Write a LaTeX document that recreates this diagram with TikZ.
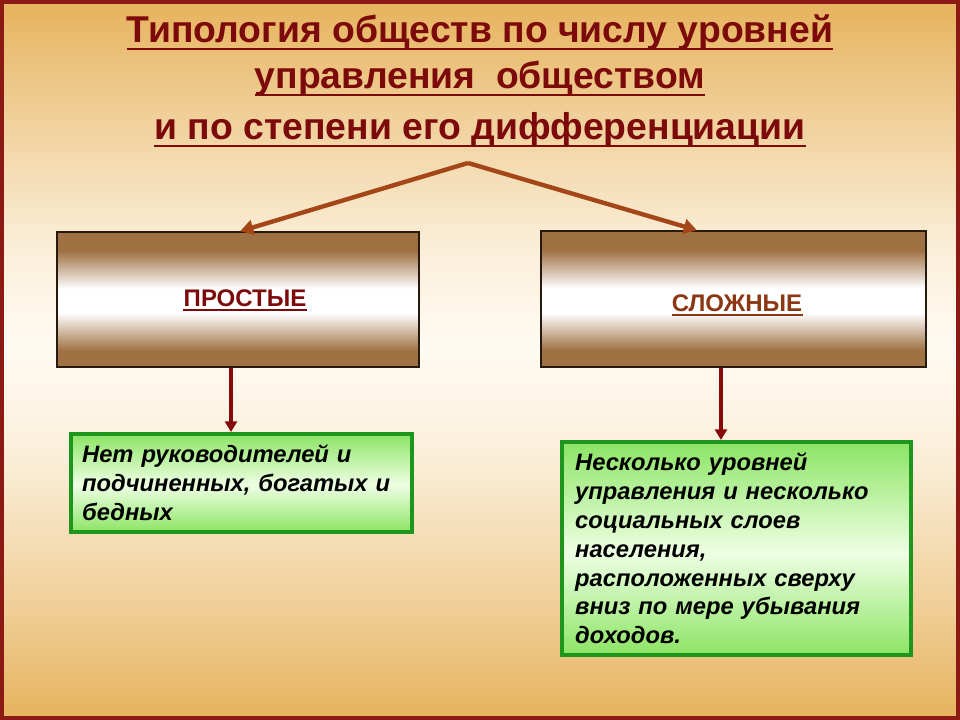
\documentclass[tikz,border=0pt]{standalone}
\usepackage{fontspec}
\setmainfont{Liberation Sans}
\usetikzlibrary{arrows.meta,calc}
\definecolor{titlered}{RGB}{125,10,10}
\definecolor{framered}{RGB}{140,25,20}
\definecolor{apexbrown}{RGB}{165,70,25}
\definecolor{downred}{RGB}{135,10,10}
\definecolor{boxbrown}{RGB}{158,112,66}
\definecolor{complexbrown}{RGB}{140,55,20}
\definecolor{noteframe}{RGB}{30,150,30}
\definecolor{notegreen}{RGB}{140,228,100}
\definecolor{notepale}{RGB}{238,255,228}
\definecolor{bgorange}{RGB}{230,178,92}
\definecolor{bgcream}{RGB}{255,251,243}
% stops between 25bp and 75bp cover the filled path
\pgfdeclareverticalshading{bgshade}{100bp}{color(0bp)=(bgorange); color(25bp)=(bgorange); color(33bp)=(bgorange!60!bgcream); color(43bp)=(bgorange!18!bgcream); color(51bp)=(bgcream); color(58bp)=(bgorange!18!bgcream); color(67bp)=(bgorange!60!bgcream); color(75bp)=(bgorange); color(100bp)=(bgorange)}
\pgfdeclareverticalshading{boxshade}{100bp}{color(0bp)=(boxbrown); color(31bp)=(boxbrown); color(45bp)=(white); color(54bp)=(white); color(68bp)=(boxbrown); color(100bp)=(boxbrown)}
\pgfdeclareverticalshading{noteshade}{100bp}{color(0bp)=(notegreen); color(25bp)=(notegreen); color(49bp)=(notepale); color(75bp)=(notegreen); color(100bp)=(notegreen)}
\tikzset{
  titleline/.style={anchor=base, text=titlered, font=\fontsize{28}{34}\selectfont\bfseries, inner sep=0pt},
  titlerule/.style={draw=titlered, line width=2.2pt},
  kindbox/.style={draw=black!80!brown, line width=1.1pt, shading=boxshade},
  kindlabel/.style={inner sep=0pt, font=\fontsize{18}{22}\selectfont\bfseries},
  notebox/.style={draw=noteframe, line width=3pt, shading=noteshade, align=left, inner sep=0pt, font=\fontsize{17.8}{21.6}\selectfont\bfseries\itshape},
  apexarrow/.style={draw=apexbrown, line width=3.3pt, -{Triangle[length=10pt,width=11pt]}},
  downarrow/.style={draw=downred, line width=2.8pt, -{Triangle[length=8pt,width=9pt]}}
}
\begin{document}
\begin{tikzpicture}[x=0.75pt,y=0.75pt,yscale=-1,xscale=1]
\useasboundingbox (0,0) rectangle (960,720);

%Background and frame
\shade[shading=bgshade] (0,0) rectangle (960,720);
\draw[framered, line width=3pt] (2,2) rectangle (958,718);

% Title
\node[titleline] (title1) at (480,43) {Типология обществ по числу уровней};
\node[titleline] (title2) at (480,89) {управления\ \ обществом};
\node[titleline] (title3) at (480,140) {и по степени его дифференциации};
\foreach \t in {title1,title2,title3}
  \draw[titlerule] ($(\t.base west)+(0,6)$) -- ($(\t.base east)+(0,6)$);
\coordinate (apex) at (468,163);

%Shape: Rectangle
\node[kindbox, minimum width=271.5pt, minimum height=101.25pt] (simple) at (238,299.5) {};
\node[kindlabel, text=titlered] (simplelabel) at (245,298) {ПРОСТЫЕ};
\draw[titlered, line width=1.3pt] ($(simplelabel.base west)+(0,4)$) -- ($(simplelabel.base east)+(0,4)$);
%Shape: Rectangle
\node[kindbox, minimum width=288.75pt, minimum height=102pt] (complex) at (733.5,299) {};
\node[kindlabel, text=complexbrown] (complexlabel) at (737,303) {СЛОЖНЫЕ};
\draw[complexbrown, line width=1.3pt] ($(complexlabel.base west)+(0,4)$) -- ($(complexlabel.base east)+(0,4)$);

%Straight Lines
\draw[apexarrow] (apex) -- ([xshift=1.5pt]simple.north);
\draw[apexarrow] (apex) -- ([xshift=-27.4pt]complex.north);

%Shape: Rectangle
\node[notebox, minimum width=255.75pt, minimum height=73.5pt, text width=239pt] (simplenote) at (241.5,483) {Нет руководителей и\\подчиненных, богатых и\\бедных};
%Shape: Rectangle
\node[notebox, minimum width=261.75pt, minimum height=159.75pt, text width=242pt] (complexnote) at (736.5,548.5) {Несколько уровней\\управления и несколько\\социальных слоев\\населения,\\расположенных сверху\\вниз по мере убывания\\доходов.};

%Straight Lines
\draw[downarrow] ([xshift=-5.25pt]simple.south) -- ([xshift=-5.25pt]simple.south |- simplenote.north);
\draw[downarrow] ([xshift=-9.4pt]complex.south) -- ([xshift=-9.4pt]complex.south |- complexnote.north);

\end{tikzpicture}
\end{document}
